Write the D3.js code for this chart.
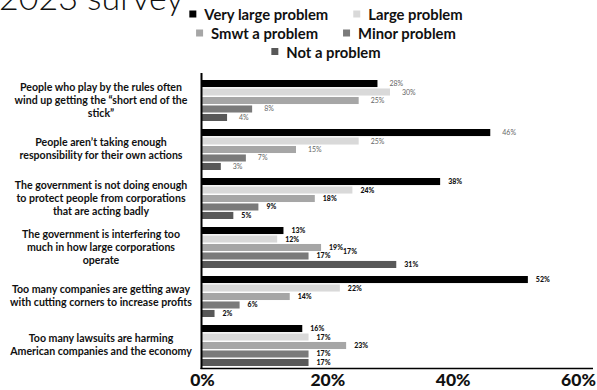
<!DOCTYPE html>
<html>
<head>
<meta charset="utf-8">
<script src="https://cdn.jsdelivr.net/npm/d3@7"></script>
<style>
  html, body { margin: 0; padding: 0; background: #fff; }
  svg { display: block; font-family: Lato, "Noto Sans", sans-serif; }
</style>
</head>
<body>
<svg id="chart" width="597" height="390"></svg>
<script>
// Survey statements (line breaks as they are set in the chart)
const categories = [
  "People who play by the rules often\nwind up getting the “short end of the\nstick”",
  "People aren’t taking enough\nresponsibility for their own actions",
  "The government is not doing enough\nto protect people from corporations\nthat are acting badly",
  "The government is interfering too\nmuch in how large corporations\noperate",
  "Too many companies are getting away\nwith cutting corners to increase profits",
  "Too many lawsuits are harming\nAmerican companies and the economy"
];

const seriesNames = ["Very large problem", "Large problem", "Smwt a problem", "Minor problem", "Not a problem"];

// Percent of respondents, one array per answer, in category order
const veryLarge = [28, 46, 38, 13, 52, 16];
const large     = [30, 25, 24, 12, 22, 17];
const smwt      = [25, 15, 18, 19, 14, 23];
const minor     = [8, 7, 9, 17, 6, 17];
const notA      = [4, 3, 5, 31, 2, 17];

const xTicks = [0, 20, 40, 60];
const titleText = "2023 survey";

const seriesValues = [veryLarge, large, smwt, minor, notA];
const colors = ["#000000", "#d9d9d9", "#a6a6a6", "#7a7a7a", "#585858"];

const svg = d3.select("#chart");

// Title (partly above the top edge)
svg.append("text")
  .attr("x", -1).attr("y", 9.5)
  .attr("font-size", 34).attr("font-weight", 300)
  .attr("fill", "#111")
  .text(titleText);

// Scales
const x = d3.scaleLinear().domain([0, 60]).range([202, 578]);
const yGroup = d3.scaleBand().domain(d3.range(categories.length)).range([80, 374]).paddingInner(0);
const ySeries = d3.scaleBand().domain(d3.range(seriesNames.length)).range([0, 41]).paddingInner(0.17);

// Legend: rows centred on one axis
const legendRows = [[0, 1], [2, 3], [4]];
const legendBaselines = [20, 39, 57.5];
const legendCenter = 326;
legendRows.forEach((row, ri) => {
  const g = svg.append("g");
  let cx = 0;
  row.forEach((si, k) => {
    if (k > 0) cx += 25;
    g.append("rect")
      .attr("x", cx).attr("y", legendBaselines[ri] - 9.5)
      .attr("width", 7).attr("height", 7)
      .attr("fill", colors[si]);
    const t = g.append("text")
      .attr("x", cx + 15).attr("y", legendBaselines[ri])
      .attr("font-size", 14.8).attr("font-weight", 700)
      .attr("fill", "#111")
      .text(seriesNames[si]);
    cx += 15 + t.node().getComputedTextLength();
  });
  g.attr("transform", `translate(${legendCenter - cx / 2},0)`);
});

// Bars
const groups = svg.append("g").selectAll("g")
  .data(categories.map((c, i) => i))
  .join("g")
  .attr("transform", i => `translate(0,${yGroup(i)})`);

groups.each(function(gi) {
  const g = d3.select(this);
  const vals = seriesValues.map(s => s[gi]);
  g.selectAll("rect")
    .data(vals)
    .join("rect")
    .attr("x", x(0))
    .attr("y", (d, si) => ySeries(si))
    .attr("width", d => x(d) - x(0))
    .attr("height", ySeries.bandwidth())
    .attr("fill", (d, si) => colors[si]);

  const light = gi < 2;
  g.selectAll("text.val")
    .data(vals)
    .join("text")
    .attr("class", "val")
    .attr("x", d => x(d) + (light ? 12 : 8))
    .attr("y", (d, si) => ySeries(si) + ySeries.bandwidth() / 2 + 2.5)
    .attr("font-size", 7)
    .attr("font-weight", light ? 400 : 900)
    .attr("fill", light ? "#666" : "#111")
    .text(d => d + "%");
});

// Second printed copy of the "Minor problem" label in the fourth statement
{
  const gi = 3, si = 3;
  svg.append("text")
    .attr("x", x(smwt[gi]) + 22)
    .attr("y", yGroup(gi) + ySeries(si) + 2)
    .attr("font-size", 7).attr("font-weight", 900).attr("fill", "#111")
    .text(minor[gi] + "%");
}

// Statement labels
categories.forEach((c, gi) => {
  const lines = c.split("\n");
  const lh = 13;
  const cy = yGroup(gi) + 20;
  const t = svg.append("text")
    .attr("text-anchor", "middle")
    .attr("font-size", 10.6).attr("font-weight", 700)
    .attr("fill", "#111");
  lines.forEach((ln, li) => {
    t.append("tspan")
      .attr("x", 101)
      .attr("y", cy + (li - (lines.length - 1) / 2) * lh + 3.5)
      .text(ln);
  });
});

// Axes lines
svg.append("line")
  .attr("x1", 201.5).attr("x2", 201.5)
  .attr("y1", 73).attr("y2", 369)
  .attr("stroke", "#000").attr("stroke-width", 2);
svg.append("line")
  .attr("x1", 200.5).attr("x2", 593)
  .attr("y1", 368.5).attr("y2", 368.5)
  .attr("stroke", "#000").attr("stroke-width", 1.5);

// Bottom tick labels
const xAxis = d3.axisBottom(x).tickValues(xTicks).tickSize(0).tickFormat(d => d + "%");
const ax = svg.append("g").attr("transform", "translate(0,371)").call(xAxis);
ax.select(".domain").remove();
ax.selectAll("text")
  .attr("font-family", "Lato, 'Noto Sans', sans-serif")
  .attr("font-size", 17.5).attr("font-weight", 900)
  .attr("fill", "#111");
</script>
</body>
</html>
